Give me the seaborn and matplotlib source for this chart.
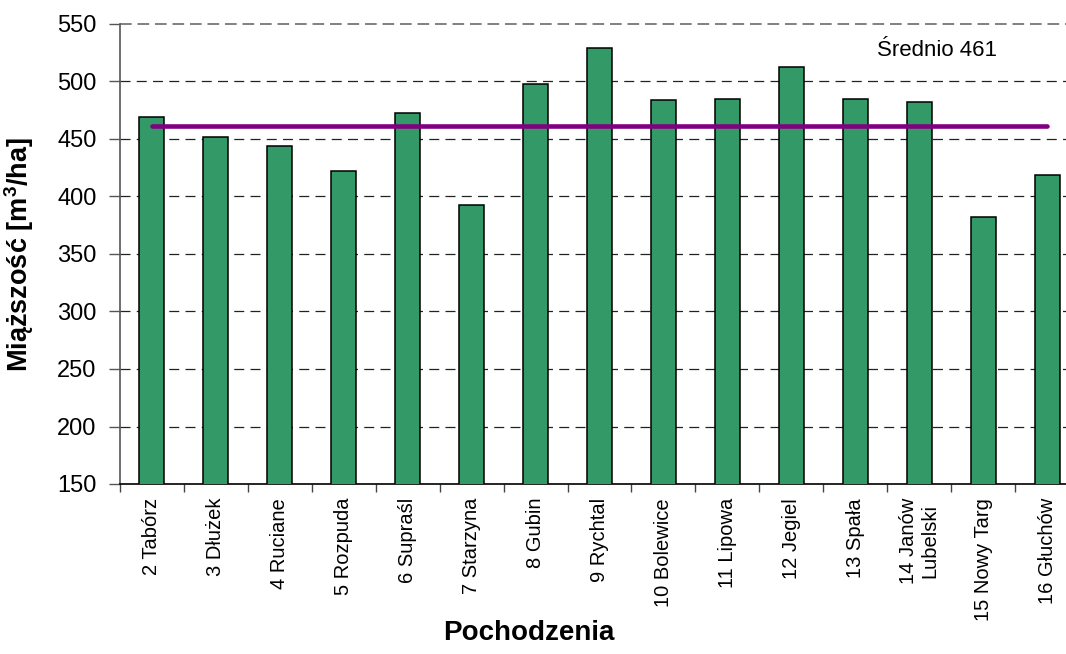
import matplotlib
matplotlib.use("Agg")
import matplotlib.pyplot as plt
import seaborn as sns
import pandas as pd
from matplotlib.ticker import FixedLocator, MultipleLocator

# Provenances and their stand volume
origins = ["2 Tabórz", "3 Dłużek", "4 Ruciane", "5 Rozpuda", "6 Supraśl",
           "7 Starzyna", "8 Gubin", "9 Rychtal", "10 Bolewice", "11 Lipowa",
           "12 Jegiel", "13 Spała", "14 Janów\nLubelski", "15 Nowy Targ",
           "16 Głuchów"]
volume = [469, 452, 444, 422, 473, 393, 498, 529, 484, 485, 513, 485, 482,
          382, 419]
mean_volume = 461
y_ticks = [150, 200, 250, 300, 350, 400, 450, 500, 550]

sns.set_theme(style="white")
plt.rcParams["font.family"] = ["Liberation Sans", "DejaVu Sans"]
plt.rcParams["mathtext.fontset"] = "custom"
plt.rcParams["mathtext.rm"] = "Liberation Sans"
plt.rcParams["mathtext.bf"] = "Liberation Sans:bold"

df = pd.DataFrame({"origin": origins, "volume": volume})

fig = plt.figure(figsize=(10.66, 6.54), dpi=100)
ax = fig.add_axes([120 / 1066, 1 - 484 / 654, 959 / 1066, 460 / 654])

sns.barplot(data=df, x="origin", y="volume", color="#339966", width=0.39,
            edgecolor="black", linewidth=1.1, saturation=1, ax=ax, zorder=3)

# average line spanning first to last provenance
n = len(origins)
ax.plot([0, n - 1], [mean_volume, mean_volume], color="#800080", lw=3.3,
        solid_capstyle="round", zorder=4)
ax.text(0.789, 0.943, f"Średnio {mean_volume}", transform=ax.transAxes,
        ha="left", va="center", fontsize=16, color="black")

ax.set_ylim(150, 550)
ax.set_xlim(-0.5, n - 0.5)
ax.yaxis.set_major_locator(FixedLocator(y_ticks))

# dashed horizontal grid
for v in y_ticks[1:-1]:
    ax.axhline(v, color="#222222", lw=0.9, ls=(0, (8, 5)), zorder=1)
ax.axhline(550, color="#808080", lw=1.4, ls=(0, (6, 3)), zorder=1,
           clip_on=False)

for side in ["top", "right"]:
    ax.spines[side].set_visible(False)
ax.spines["left"].set_color("#555555")
ax.spines["left"].set_linewidth(1.2)
ax.spines["bottom"].set_color("black")
ax.spines["bottom"].set_linewidth(1.2)

# ticks: labels at category centres, marks at category boundaries
ax.xaxis.set_minor_locator(MultipleLocator(1, offset=0.5))
ax.tick_params(axis="x", which="major", length=0, pad=10, labelsize=14.5,
               labelcolor="black", rotation=90)
ax.tick_params(axis="x", which="minor", length=6, width=1, color="#444444",
               direction="out", bottom=True)
ax.tick_params(axis="y", length=8, width=1, color="#555555", direction="out",
               left=True, pad=9, labelsize=17, labelcolor="black")
for lbl in ax.get_xticklabels():
    lbl.set_va("top")
    lbl.set_ha("center")
    lbl.set_multialignment("center")

ax.set_ylabel("Miąższość [m$^{\\mathbf{3}}$/ha]", fontsize=19.5,
              fontweight="bold", color="black")
ax.yaxis.set_label_coords(-0.088, 0.5)
ax.set_xlabel("Pochodzenia", fontsize=20, fontweight="bold", color="black")
ax.xaxis.set_label_coords(0.4265, -0.296)

fig.savefig("out.png", dpi=100)
